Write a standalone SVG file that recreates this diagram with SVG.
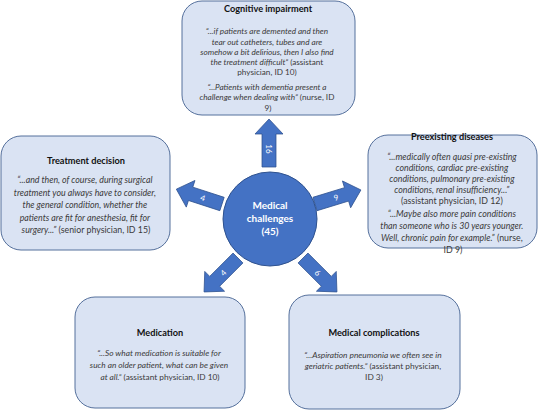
<svg xmlns="http://www.w3.org/2000/svg" width="538" height="411" viewBox="0 0 538 411">
<style>
.box{fill:#DAE3F3;stroke:#55709C;stroke-width:1}
.t{font-family:Lato,"Open Sans","Liberation Sans",sans-serif;font-weight:bold;font-size:9.2px;fill:#111;text-anchor:middle}
.q{font-family:Lato,"Open Sans","Liberation Sans",sans-serif;fill:#3a3a3a;text-anchor:middle}
.i{font-style:italic}
.arr{fill:#4472C4;stroke:#2F528F;stroke-width:0.75}
.al{font-family:Lato,"Open Sans","Liberation Sans",sans-serif;font-size:8px;fill:#fff;text-anchor:middle;dominant-baseline:central}
.ct{font-family:Lato,"Open Sans","Liberation Sans",sans-serif;font-weight:bold;font-size:10px;fill:#fff;text-anchor:middle}
</style>
<defs>
<polygon id="arrow" points="0,-7 33,-7 33,-14 48,0 33,14 33,7 0,7"/>
</defs>

<g id="cognitive-impairment">
<rect class="box" x="182" y="1" width="173" height="114" rx="20"/>
<text class="t" x="268" y="12">Cognitive impairment</text>
<text class="q" font-size="8.2">
<tspan class="i" x="268" y="34">“...if patients are demented  and then</tspan>
<tspan class="i" x="268" y="45">tear out catheters,  tubes and are</tspan>
<tspan class="i" x="268" y="55">somehow a bit delirious, then I also find</tspan>
<tspan x="268" y="65"><tspan class="i">the treatment  difficult”</tspan> (assistant</tspan>
<tspan x="268" y="75">physician, ID 10)</tspan>
<tspan class="i" x="268" y="90">“...Patients with dementia  present a</tspan>
<tspan x="268" y="100"><tspan class="i">challenge when dealing with”</tspan> (nurse, ID</tspan>
<tspan x="268" y="111">9)</tspan>
</text>
</g>

<g id="preexisting-diseases">
<rect class="box" x="368" y="135" width="169" height="113" rx="20"/>
<text class="t" x="452" y="140">Preexisting diseases</text>
<text class="q" font-size="8.8">
<tspan class="i" x="453" y="160">“...medically often quasi pre-existing</tspan>
<tspan class="i" x="453" y="171">conditions, cardiac pre-existing</tspan>
<tspan class="i" x="453" y="182">conditions, pulmonary pre-existing</tspan>
<tspan class="i" x="453" y="193">conditions, renal insufficiency...”</tspan>
<tspan x="453" y="204">(assistant physician, ID 12)</tspan>
<tspan class="i" x="453" y="217">“...Maybe also more pain conditions</tspan>
<tspan class="i" x="453" y="229">than someone who is 30 years younger.</tspan>
<tspan x="453" y="241"><tspan class="i">Well, chronic pain for example.”</tspan> (nurse,</tspan>
<tspan x="453" y="253">ID 9)</tspan>
</text>
</g>

<g id="treatment-decision">
<rect class="box" x="1" y="136" width="169" height="114" rx="20"/>
<text class="t" x="86" y="164">Treatment decision</text>
<text class="q" font-size="8.8">
<tspan class="i" x="86" y="183">“...and then, of course, during surgical</tspan>
<tspan class="i" x="86" y="196">treatment  you always have to consider,</tspan>
<tspan class="i" x="86" y="208">the general condition, whether the</tspan>
<tspan class="i" x="86" y="221">patients are fit for anesthesia, fit for</tspan>
<tspan x="86" y="233"><tspan class="i">surgery...”</tspan> (senior physician, ID 15)</tspan>
</text>
</g>

<g id="medication">
<rect class="box" x="75" y="297" width="170" height="111" rx="20"/>
<text class="t" x="160" y="336">Medication</text>
<text class="q" font-size="8.3">
<tspan class="i" x="160" y="356">“...So what medication  is suitable for</tspan>
<tspan class="i" x="160" y="368">such an older patient,  what can be given</tspan>
<tspan x="160" y="380"><tspan class="i">at all.”</tspan> (assistant physician, ID 10)</tspan>
</text>
</g>

<g id="medical-complications">
<rect class="box" x="289" y="295" width="171" height="114" rx="20"/>
<text class="t" x="374" y="336">Medical complications</text>
<text class="q" font-size="8.35">
<tspan class="i" x="374" y="358">“...Aspiration pneumonia we often see in</tspan>
<tspan x="374" y="369"><tspan class="i">geriatric patients.”</tspan>  (assistant physician,</tspan>
<tspan x="374" y="380">ID 3)</tspan>
</text>
</g>

<g id="connectors">
<g transform="translate(269,167) rotate(-90)">
<use href="#arrow" class="arr"/>
<text class="al" transform="translate(18,0) rotate(180)">16</text>
</g>
<g transform="translate(222,204) rotate(198)">
<use href="#arrow" class="arr"/>
<text class="al" transform="translate(20,0) rotate(180)">4</text>
</g>
<g transform="translate(315,204) rotate(-17)">
<use href="#arrow" class="arr"/>
<text class="al" transform="translate(22,0)">9</text>
</g>
<g transform="translate(238,258) rotate(135)">
<use href="#arrow" class="arr"/>
<text class="al" transform="translate(21,0) rotate(180)">4</text>
</g>
<g transform="translate(303,258) rotate(45)">
<use href="#arrow" class="arr"/>
<text class="al" transform="translate(21,0)">6</text>
</g>
</g>

<g id="medical-challenges">
<circle cx="270" cy="219" r="47" fill="#4472C4" stroke="#2F528F" stroke-width="1"/>
<text class="ct" x="270" y="209">Medical</text>
<text class="ct" x="270" y="222">challenges</text>
<text class="ct" x="270" y="235">(45)</text>
</g>
</svg>
